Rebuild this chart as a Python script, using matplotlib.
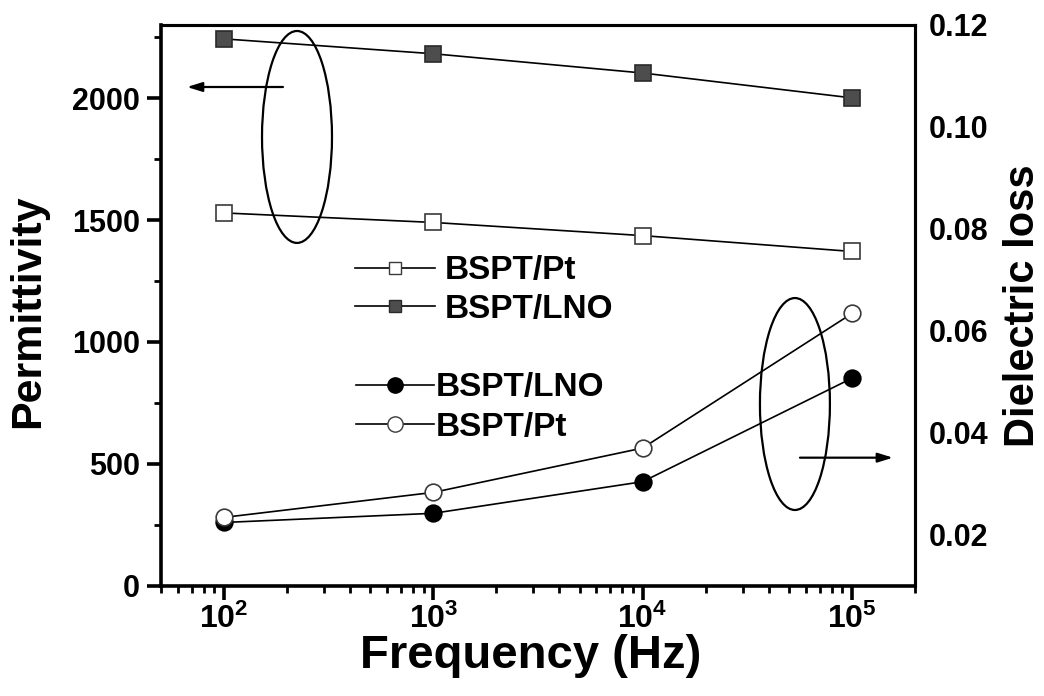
import math
import matplotlib
matplotlib.use("Agg")
import matplotlib.pyplot as plt
from matplotlib.patches import Ellipse
from matplotlib.ticker import LogLocator, FixedLocator, FuncFormatter, MultipleLocator, NullFormatter
from matplotlib.lines import Line2D

plt.rcParams['font.family'] = ['Liberation Sans', 'DejaVu Sans']
plt.rcParams['font.weight'] = 'bold'
plt.rcParams['mathtext.fontset'] = 'custom'
plt.rcParams['mathtext.rm'] = 'Liberation Sans:bold'
plt.rcParams['mathtext.bf'] = 'Liberation Sans:bold'
plt.rcParams['mathtext.it'] = 'Liberation Sans:bold'

# Measured data
freq = [1e2, 1e3, 1e4, 1e5]
perm_lno = [2243, 2182, 2103, 2001]
perm_pt = [1529, 1490, 1436, 1371]
loss_lno = [0.0224, 0.0242, 0.0304, 0.0507]
loss_pt = [0.0234, 0.0283, 0.0370, 0.0634]

fig = plt.figure(figsize=(10.44, 6.96), dpi=100)
ax = fig.add_axes([0.1542, 0.1585, 0.7222, 0.8056])
ax2 = ax.twinx()

line_kw = dict(color='black', lw=1.2)
ax.plot(freq, perm_lno, marker='s', ms=11, mfc='#4d4d4d', mec='#2a2a2a', mew=1.2, **line_kw)
ax.plot(freq, perm_pt, marker='s', ms=11, mfc='white', mec='#3a3a3a', mew=1.2, **line_kw)
ax2.plot(freq, loss_lno, marker='o', ms=12, mfc='black', mec='black', mew=1.2, **line_kw)
ax2.plot(freq, loss_pt, marker='o', ms=12, mfc='white', mec='#3a3a3a', mew=1.2, **line_kw)

ax.set_xscale('log')
ax.set_xlim(50, 2e5)
ax.set_ylim(0, 2300)
ax2.set_ylim(0.01, 0.12)

# Bottom axis ticks
ax.xaxis.set_major_locator(FixedLocator([1e2, 1e3, 1e4, 1e5]))
ax.xaxis.set_minor_locator(LogLocator(base=10, subs=range(2, 10), numticks=20))
ax.xaxis.set_major_formatter(FuncFormatter(lambda v, p: r'$\mathbf{10^{%d}}$' % round(math.log10(v))))
ax.xaxis.set_minor_formatter(NullFormatter())

ax.yaxis.set_major_locator(MultipleLocator(500))
ax.yaxis.set_minor_locator(MultipleLocator(250))
ax2.yaxis.set_major_locator(FixedLocator([0.02, 0.04, 0.06, 0.08, 0.10, 0.12]))
ax2.yaxis.set_major_formatter(FuncFormatter(lambda v, p: '%.2f' % v))

ax.tick_params(axis='y', which='major', direction='out', length=10, width=2.6,
               labelsize=22, right=False, pad=5)
ax.tick_params(axis='x', which='major', direction='out', length=10, width=2.6,
               labelsize=23, top=False, pad=3)
ax.tick_params(axis='both', which='minor', direction='out', length=5, width=2.0,
               top=False, right=False)
ax2.tick_params(axis='y', which='both', length=0, labelsize=22, pad=10)

for lab in ax.get_yticklabels() + ax2.get_yticklabels():
    lab.set_fontweight('bold')

for sp in ['left', 'bottom']:
    ax.spines[sp].set_linewidth(2.6)
for sp in ['top', 'right']:
    ax.spines[sp].set_linewidth(2.2)
    ax2.spines[sp].set_linewidth(2.2)
ax2.spines['left'].set_visible(False)
ax2.spines['bottom'].set_visible(False)

ax.set_xlabel('Frequency (Hz)', fontsize=34, fontweight='bold')
ax.xaxis.set_label_coords(0.49, -0.086, transform=ax.transAxes)
ax.xaxis.label.set_va('top')
ax.set_ylabel('Permittivity', fontsize=31, fontweight='bold')
ax.yaxis.set_label_coords(-0.15, 0.49)
ax2.set_ylabel('Dielectric loss', fontsize=30, fontweight='bold')
ax2.yaxis.set_label_coords(1.117, 0.50)

# Grouping ellipses and direction arrows
for cx, cy in [(0.1804, 0.8003), (0.8408, 0.324)]:
    ax2.add_patch(Ellipse((cx, cy), 0.0928, 0.378, transform=ax2.transAxes,
                          fill=False, ec='black', lw=1.6, zorder=5, clip_on=False))
arrow_style = dict(arrowstyle='-|>,head_length=0.9,head_width=0.28', color='black', lw=1.6,
                   shrinkA=0, shrinkB=0)
ax2.annotate('', xy=(0.0345, 0.8894), xytext=(0.1618, 0.8894), xycoords='axes fraction',
             arrowprops=arrow_style)
ax2.annotate('', xy=(0.9708, 0.2283), xytext=(0.8475, 0.2283), xycoords='axes fraction',
             arrowprops=arrow_style)

# Legends
h_pt = Line2D([], [], color='black', lw=1.2, marker='s', ms=8, mfc='white', mec='#3a3a3a')
h_lno = Line2D([], [], color='black', lw=1.2, marker='s', ms=8, mfc='#4d4d4d', mec='#2a2a2a')
leg1 = ax2.legend([h_pt, h_lno], ['BSPT/Pt', 'BSPT/LNO'], loc='center left',
                  bbox_to_anchor=(0.2573, 0.5274), frameon=False,
                  handlelength=2.4, handletextpad=0.3, borderpad=0, borderaxespad=0,
                  labelspacing=0.22, numpoints=1, prop=dict(weight='bold', size=24))
ax2.add_artist(leg1)
c_lno = Line2D([], [], color='black', lw=1.2, marker='o', ms=11, mfc='black', mec='black')
c_pt = Line2D([], [], color='black', lw=1.2, marker='o', ms=11, mfc='white', mec='#3a3a3a')
ax2.legend([c_lno, c_pt], ['BSPT/LNO', 'BSPT/Pt'], loc='center left',
           bbox_to_anchor=(0.2586, 0.3178), frameon=False,
           handlelength=2.35, handletextpad=0.05, borderpad=0, borderaxespad=0,
           labelspacing=0.25, numpoints=1, prop=dict(weight='bold', size=24))

fig.savefig('out.png', dpi=100)
